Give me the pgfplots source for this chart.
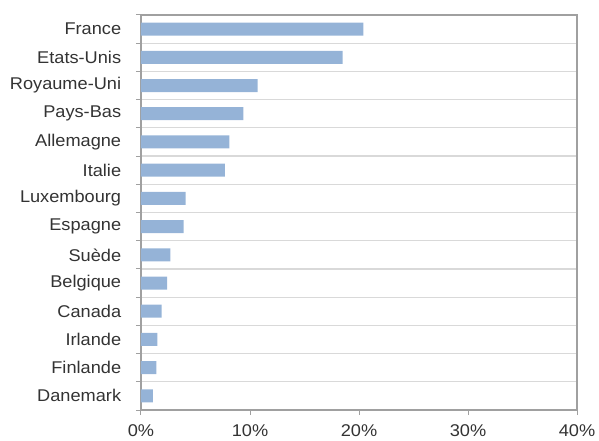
\documentclass[border=0pt]{standalone}
\usepackage{pgfplots}
\pgfplotsset{compat=1.18}
\usepackage{fontspec}
\setmainfont{Liberation Sans}[FakeStretch=1.07]
\definecolor{barblue}{HTML}{95B3D7}
\definecolor{gridgray}{HTML}{D9D9D9}
\definecolor{axisgray}{HTML}{A0A0A0}
\begin{document}
\fontsize{17bp}{20bp}\selectfont
\begin{tikzpicture}
\begin{axis}[
  name=ax,
  scale only axis,
  width=436bp, height=395bp,
  xbar, bar width=13bp,
  xmin=0, xmax=40,
  ymin=-0.5, ymax=13.5,
  xtick={0,10,20,30,40},
  xticklabel={\pgfmathprintnumber{\tick}\%},
  /pgf/number format/assume math mode=true,
  ytick={-0.5,0.5,...,13.5},
  yticklabels={Danemark,Finlande,Irlande,Canada,Belgique,Suède,Espagne,Luxembourg,Italie,Allemagne,Pays-Bas,Royaume-Uni,Etats-Unis,France,{}},
  ymajorgrids=true,
  major grid style={gridgray, line width=1.2pt},
  major tick length=5bp,
  tick align=outside,
  tick style={axisgray, line width=1pt},
  xtick pos=bottom, ytick pos=left,
  axis line style={axisgray, line width=1.2pt},
  tick label style={font=\fontsize{17bp}{20bp}\selectfont, text=black!80},
  yticklabel style={xshift=-9bp, yshift=14.1bp},
  xticklabel style={yshift=-4bp},
]
\addplot[fill=barblue, draw=none] coordinates {
(1.1,0) (1.4,1) (1.5,2) (1.9,3) (2.4,4) (2.7,5) (3.9,6) (4.1,7) (7.7,8) (8.1,9) (9.4,10) (10.7,11) (18.5,12) (20.4,13)
};
\end{axis}
\pgfresetboundingbox
\path ([xshift=-141bp,yshift=-31bp]ax.south west) rectangle ([xshift=22bp,yshift=15bp]ax.north east);
\end{tikzpicture}
\end{document}
